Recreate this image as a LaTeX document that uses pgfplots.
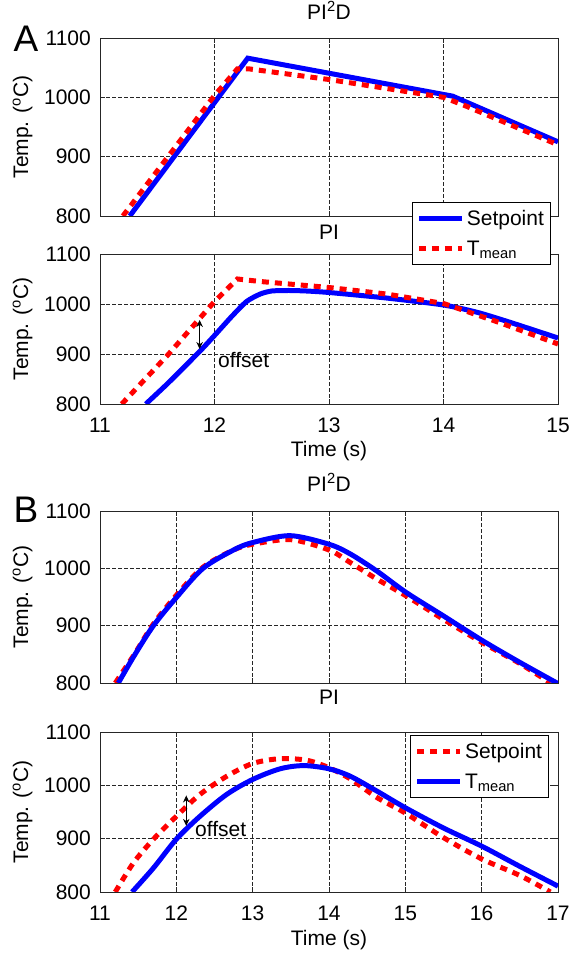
\documentclass[border=0pt]{standalone}
\usepackage{fontspec}
\setmainfont{Liberation Sans}
\usepackage{pgfplots}
\pgfplotsset{compat=1.18}
\usetikzlibrary{arrows.meta}
\newcommand{\f}{\fontsize{21bp}{25bp}\selectfont}
\tikzset{arr/.style={{Stealth[length=7bp,width=6.5bp]}-{Stealth[length=7bp,width=6.5bp]}, line width=0.9bp}}
\pgfplotsset{
 mystyle/.style={
  scale only axis, width=458bp,
  xmin=11, ymin=800, ymax=1100,
  ytick={800,900,1000,1100},
  tick align=inside, major tick length=5bp,
  grid=major,
  major grid style={dash pattern=on 3.5bp off 2.5bp, line width=0.6bp, black!85},
  axis line style={line width=0.9bp, black!85},
  every tick/.style={black!85, line width=0.9bp},
  tick label style={font=\f},
  /pgf/number format/assume math mode=true,
  /pgf/number format/1000 sep={},
  yticklabel style={inner sep=0pt, anchor=east, xshift=-9bp},
  xticklabel style={inner sep=0pt, anchor=north, yshift=-14bp},
  ylabel={Temp. (\textsuperscript{o}C)},
  ylabel style={at={(axis description cs:-0.157,0.5)}, anchor=base, font=\f},
  xlabel style={anchor=base, font=\f},
  title style={anchor=base, font=\f},
  legend image code/.code={\draw[##1] (0bp,0bp) -- (43bp,0bp);},
  legend style={draw=black, line width=0.9bp, fill=white, font=\f,
    inner xsep=4bp, inner ysep=5bp, row sep=9bp,
    nodes={inner sep=2.5bp}, legend cell align=left},
 },
 sp/.style={blue, line width=5bp},
 tm/.style={red, line width=5bp, dash pattern=on 7bp off 6bp},
}
\begin{document}
\begin{tikzpicture}
\useasboundingbox (0bp,0bp) rectangle (572bp,956bp);

% Panel A - PI
\begin{axis}[mystyle, at={(100bp,552bp)}, anchor=south west, height=150bp,
  xmax=15, xtick={11,12,13,14,15},
  title={PI}, title style={at={(axis description cs:0.5,1.06)}},
  xlabel={Time (s)}, xlabel style={at={(axis description cs:0.5,-0.347)}}]
\addplot[sp, smooth, tension=0.4] coordinates {(11.4,800) (11.6,843) (11.87,905) (12.0,937) (12.15,975) (12.28,1005) (12.4,1020) (12.5,1026) (12.65,1027) (12.8,1026) (13.0,1023) (13.5,1012) (14.0,998) (14.3,983) (14.6,962) (15.0,932)};
\addplot[tm] coordinates {(11.19,800) (11.6,900) (12.0,1005) (12.2,1050) (12.4,1045) (13.0,1033) (13.5,1020) (14.0,1001) (14.5,962) (15.0,920)};
\draw[arr] (axis cs:11.87,968) -- (axis cs:11.87,910);
\node[anchor=base west, font=\f, inner sep=0pt] at (axis cs:12.03,872) {offset};
\end{axis}

% Panel A - PI2D
\begin{axis}[mystyle, at={(100bp,740bp)}, anchor=south west, height=178bp,
  xmax=15, xtick={11,12,13,14,15}, xticklabels={},
  title={PI\textsuperscript{2}D}, title style={at={(axis description cs:0.5,1.073)}},
  legend style={at={(axis description cs:0.681,0.0787)}, anchor=north west}]
\addplot[sp] coordinates {(11.26,800) (12.29,1066) (14.08,1002) (15.0,925)};
\addlegendentry{Setpoint}
\addplot[tm] coordinates {(11.2,800) (12.0,1003) (12.2,1048) (12.3,1048) (13.0,1030) (14.0,1000) (14.2,985) (15.0,920)};
\addlegendentry{T\textsubscript{mean}}
\end{axis}

% Panel B - PI2D
\begin{axis}[mystyle, at={(100bp,273bp)}, anchor=south west, height=172bp,
  xmax=17, xtick={11,12,13,14,15,16,17}, xticklabels={},
  title={PI\textsuperscript{2}D}, title style={at={(axis description cs:0.5,1.081)}}]
\addplot[tm, smooth, tension=0.5] coordinates {(11.2,800) (11.45,850) (11.7,903) (12.0,953) (12.35,1002) (12.75,1032) (13.0,1042) (13.5,1050) (14.0,1032) (14.28,1010) (14.63,981) (15.01,952) (15.5,911) (16.0,871) (16.5,834) (16.9,800)};
\addplot[sp, smooth, tension=0.5] coordinates {(11.24,800) (11.45,848) (11.7,900) (12.0,949) (12.35,1000) (12.75,1032) (13.0,1045) (13.49,1057) (14.0,1042) (14.28,1025) (14.63,995) (15.01,958) (15.5,917) (16.01,874) (16.5,836) (17.0,799)};
\end{axis}

% Panel B - PI
\begin{axis}[mystyle, at={(100bp,64bp)}, anchor=south west, height=160bp,
  xmax=17, xtick={11,12,13,14,15,16,17},
  title={PI}, title style={at={(axis description cs:0.5,1.1375)}},
  xlabel={Time (s)}, xlabel style={at={(axis description cs:0.5,-0.3375)}},
  legend style={at={(axis description cs:0.677,0.981)}, anchor=north west}]
\addplot[tm, smooth, tension=0.5] coordinates {(11.2,800) (11.44,855) (11.7,899) (12.0,942) (12.31,983) (12.66,1017) (13.0,1041) (13.36,1050) (13.71,1047) (14.0,1033) (14.28,1012) (14.63,977) (15.0,948) (15.5,902) (16.0,862) (16.5,831) (16.9,800)};
\addlegendentry{Setpoint}
\addplot[sp, smooth, tension=0.5] coordinates {(11.42,800) (11.7,845) (12.0,899) (12.31,942) (12.66,983) (13.0,1011) (13.36,1031) (13.67,1037) (14.0,1031) (14.28,1017) (14.63,989) (15.0,958) (15.5,920) (16.0,886) (16.5,848) (17.0,811)};
\addlegendentry{T\textsubscript{mean}}
\draw[arr] (axis cs:12.13,981) -- (axis cs:12.13,924);
\node[anchor=base west, font=\f, inner sep=0pt] at (axis cs:12.245,905) {offset};
\end{axis}

\node[font=\fontsize{37bp}{40bp}\selectfont, anchor=base, inner sep=0pt] at (26bp,904bp) {A};
\node[font=\fontsize{37bp}{40bp}\selectfont, anchor=base, inner sep=0pt] at (26bp,433bp) {B};
\end{tikzpicture}
\end{document}
